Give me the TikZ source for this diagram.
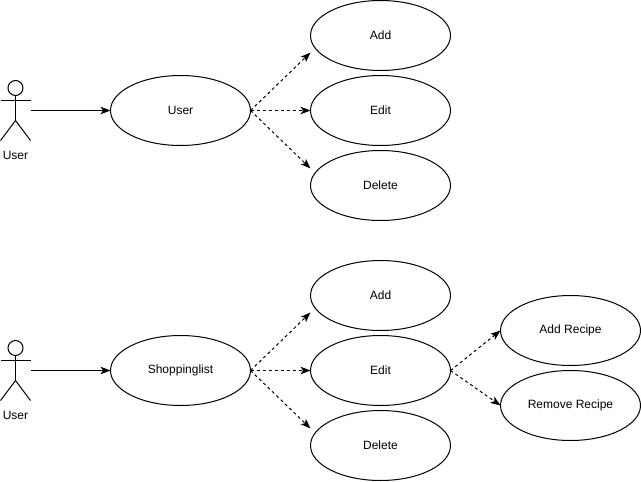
\documentclass[tikz,border=0pt]{standalone}
\usepackage{fontspec}
\setmainfont{Liberation Sans}
\usetikzlibrary{shapes.geometric,arrows.meta,positioning}
\tikzset{
    usecase/.style={draw, ellipse, line width=0.75pt, minimum width=105pt, minimum height=52.5pt, inner sep=0pt, outer sep=0pt, font=\fontsize{9}{11}\selectfont},
    actorbox/.style={minimum width=22.5pt, minimum height=45pt, inner sep=0pt, outer sep=0pt},
    actorname/.style={inner sep=0pt, font=\fontsize{9}{11}\selectfont},
    solidarrow/.style={line width=0.75pt, -{Stealth[length=7.5pt,width=5.6pt,inset=1.9pt]}},
    dasharrow/.style={solidarrow, dash pattern=on 2.25pt off 2.25pt},
    stickman/.pic={
        \draw[line width=0.75pt] (0,-22.5) circle (7.5);
        \draw[line width=0.75pt] (0,-15)--(0,10);
        \draw[line width=0.75pt] (-15,-10)--(15,-10);
        \draw[line width=0.75pt] (-15,30)--(0,10)--(15,30);
    }
}
\begin{document}
\begin{tikzpicture}[x=0.75pt, y=-0.75pt]
    \useasboundingbox (-0.5,-0.5) rectangle (640.5,480.5);

    % top group
    \node[actorbox] (actorUser) at (15,110) {};
    \pic at (actorUser.center) {stickman};
    \node[actorname, below=8pt of actorUser] (actorUserName) {User};
    \node[usecase] (user) at (180,110) {User};
    \node[usecase] (userAdd) at (380,35) {Add};
    \node[usecase] (userEdit) at (380,110) {Edit};
    \node[usecase] (userDelete) at (380,185) {Delete};

    \draw[solidarrow] (actorUser.east)--(user.west);
    \draw[dasharrow] (user.east)--([shift={(0,17)}]userAdd.west);
    \draw[dasharrow] (user.east)--(userEdit.west);
    \draw[dasharrow] (user.east)--([shift={(0,-17)}]userDelete.west);

    % bottom group
    \node[actorbox] (actorList) at (15,370) {};
    \pic at (actorList.center) {stickman};
    \node[actorname, below=8pt of actorList] (actorListName) {User};
    \node[usecase] (list) at (180,370) {Shoppinglist};
    \node[usecase] (listAdd) at (380,295) {Add};
    \node[usecase] (listEdit) at (380,370) {Edit};
    \node[usecase] (listDelete) at (380,445) {Delete};
    \node[usecase] (addRecipe) at (570,330) {Add Recipe};
    \node[usecase] (removeRecipe) at (570,405) {Remove Recipe};

    \draw[solidarrow] (actorList.east)--(list.west);
    \draw[dasharrow] (list.east)--([shift={(0,17)}]listAdd.west);
    \draw[dasharrow] (list.east)--(listEdit.west);
    \draw[dasharrow] (list.east)--([shift={(0,-17)}]listDelete.west);
    \draw[dasharrow] (listEdit.east)--(addRecipe.west);
    \draw[dasharrow] (listEdit.east)--(removeRecipe.west);
\end{tikzpicture}
\end{document}
